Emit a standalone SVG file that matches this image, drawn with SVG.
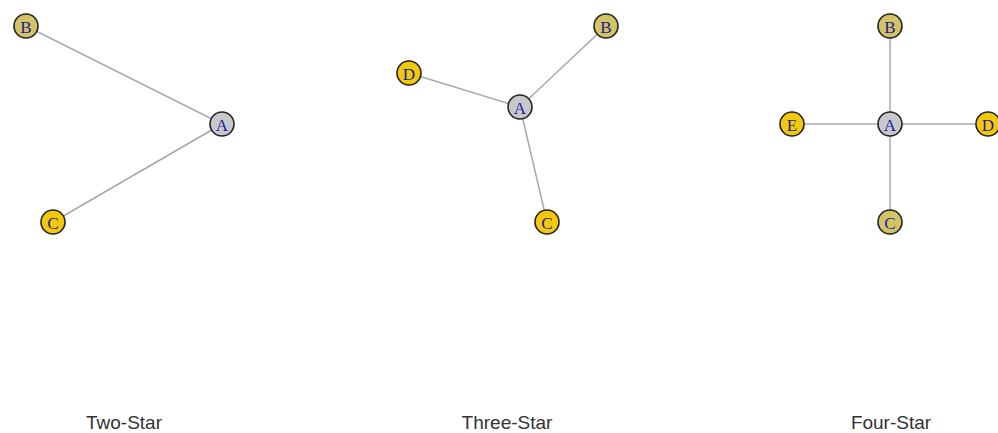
<svg xmlns="http://www.w3.org/2000/svg" width="998" height="433" viewBox="0 0 998 433">
<style>
.e{stroke:#a8a8a8;stroke-width:1.5;fill:none}
circle{stroke:#222;stroke-width:1.6}
.a{fill:#c8c8cc}
.k{fill:#d2c464}
.g{fill:#f2c80a}
.n{font-family:"Liberation Serif",serif;font-size:17px;fill:#1c1c9a;text-anchor:middle}
.t{font-family:"Liberation Sans",Arial,sans-serif;font-size:19px;fill:#333;text-anchor:middle}
</style>
<rect width="998" height="433" fill="#fff"/>
<g id="edges">
<line class="e" x1="222" y1="124" x2="26" y2="26"/>
<line class="e" x1="222" y1="124" x2="53" y2="222"/>
<line class="e" x1="520" y1="107" x2="606" y2="26"/>
<line class="e" x1="520" y1="107" x2="409" y2="73"/>
<line class="e" x1="520" y1="107" x2="547" y2="222"/>
<line class="e" x1="890" y1="124" x2="890" y2="26"/>
<line class="e" x1="890" y1="124" x2="792" y2="124"/>
<line class="e" x1="890" y1="124" x2="988" y2="124"/>
<line class="e" x1="890" y1="124" x2="890" y2="222"/>
</g>
<g id="two-A"><circle class="a" cx="222" cy="124" r="12"/><text class="n" x="222" y="131">A</text></g>
<g id="two-B"><circle class="k" cx="26" cy="26" r="12"/><text class="n" x="26" y="33">B</text></g>
<g id="two-C"><circle class="g" cx="53" cy="222" r="12"/><text class="n" x="53" y="229">C</text></g>
<g id="three-A"><circle class="a" cx="520" cy="107" r="12"/><text class="n" x="520" y="114">A</text></g>
<g id="three-B"><circle class="k" cx="606" cy="26" r="12"/><text class="n" x="606" y="33">B</text></g>
<g id="three-D"><circle class="g" cx="409" cy="73" r="12"/><text class="n" x="409" y="80">D</text></g>
<g id="three-C"><circle class="g" cx="547" cy="222" r="12"/><text class="n" x="547" y="229">C</text></g>
<g id="four-A"><circle class="a" cx="890" cy="124" r="12"/><text class="n" x="890" y="131">A</text></g>
<g id="four-B"><circle class="k" cx="890" cy="26" r="12"/><text class="n" x="890" y="33">B</text></g>
<g id="four-E"><circle class="g" cx="792" cy="124" r="12"/><text class="n" x="792" y="131">E</text></g>
<g id="four-D"><circle class="g" cx="988" cy="124" r="12"/><text class="n" x="988" y="131">D</text></g>
<g id="four-C"><circle class="k" cx="890" cy="222" r="12"/><text class="n" x="890" y="229">C</text></g>
<text class="t" x="124" y="429">Two-Star</text>
<text class="t" x="507" y="429">Three-Star</text>
<text class="t" x="891" y="429">Four-Star</text>
</svg>
